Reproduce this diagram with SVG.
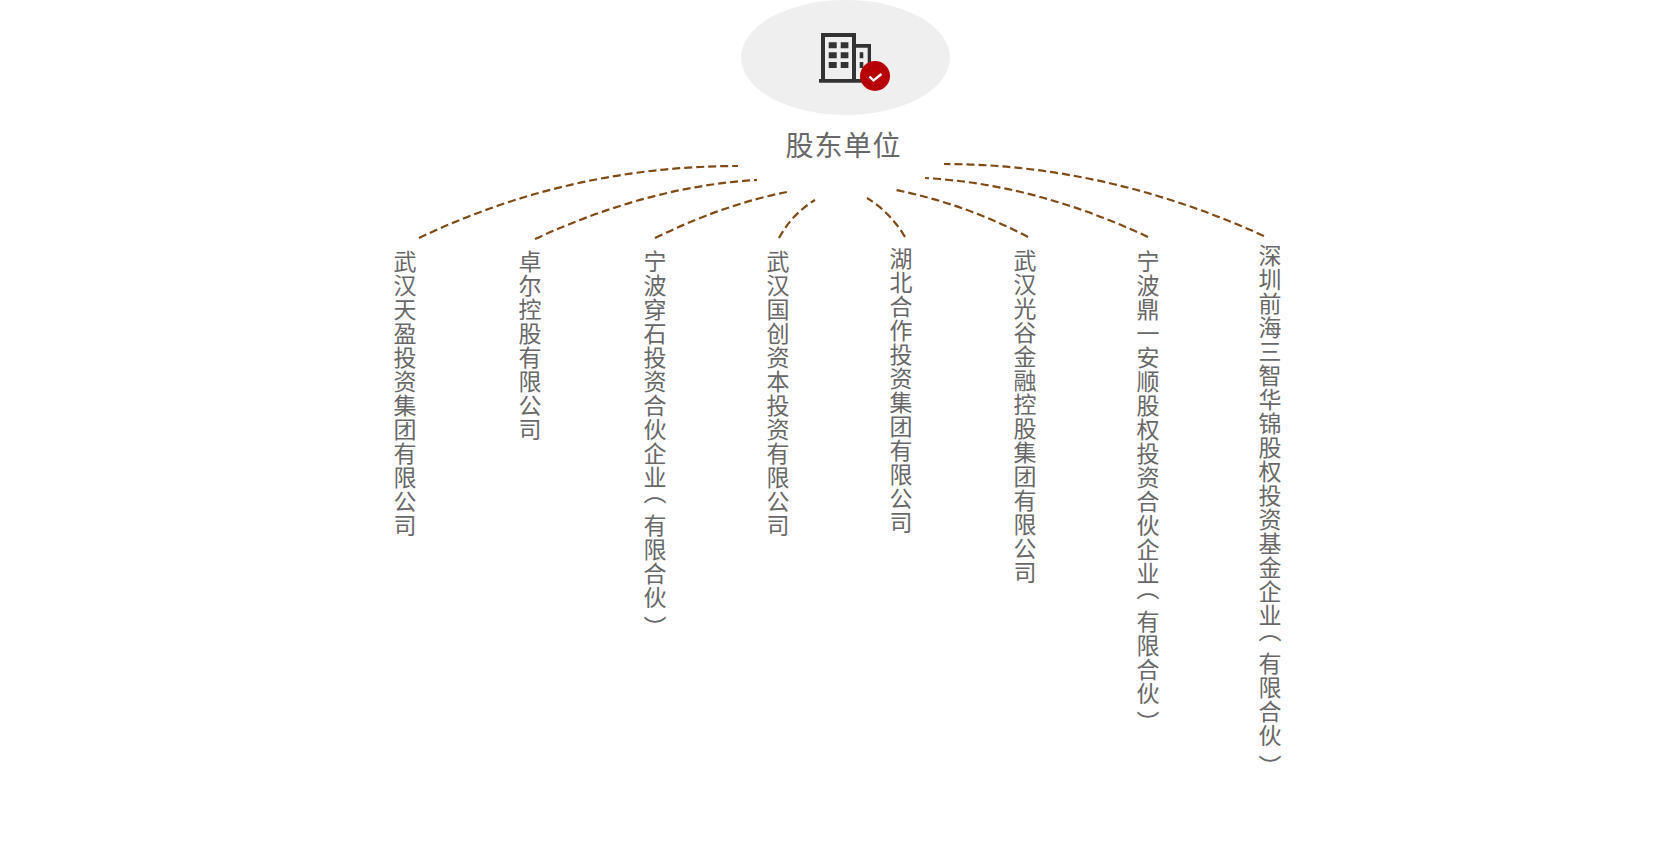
<svg xmlns="http://www.w3.org/2000/svg" width="1680" height="846" viewBox="0 0 1680 846">
<style>
.t{font-family:"Noto Sans CJK SC","Noto Sans",sans-serif;fill:#686868}
.v{font-size:23px;writing-mode:vertical-rl;text-orientation:mixed;letter-spacing:1px}
.c{fill:none;stroke:#7f4a14;stroke-width:2.2;stroke-dasharray:8 4}
.k{fill:#333}
</style>
<rect width="1680" height="846" fill="#fff"/>
<g id="root">
<ellipse cx="845.500" cy="57.500" rx="104.500" ry="57.500" fill="#efefef"/>
<g id="icon">
<path class="k" d="M821 33h35v48h-4V37h-27v44h-4z"/>
<path class="k" d="M856 44h15v22h-3.300V47.700h-11.700z"/>
<path class="k" d="M819 79h44v3.700h-44z"/>
<path class="k" d="M828.700 42.300h8v6h-8zM840.700 42.300h7.700v6h-7.700zM828.700 52.300h8v6h-8zM840.700 52.300h7.700v6h-7.700zM828.700 62h8v6h-8zM840.700 62h7.700v6h-7.700zM859.700 52.300h3.600v6h-3.600zM859.700 62h3.600v6h-3.600z"/>
<circle cx="875" cy="76" r="15" fill="#b60005"/>
<path d="M869.500 76.500l4 4 8-6.500" fill="none" stroke="#fff" stroke-width="2.400"/>
</g>
<text class="t" x="843.500" y="156" font-size="28" letter-spacing="1" text-anchor="middle">股东单位</text>
</g>
<g id="connectors">
<path class="c" d="M419 238Q570 166 738 166"/>
<path class="c" d="M535 239Q650 186 757 180"/>
<path class="c" d="M655 238Q725 204 787 192"/>
<path class="c" d="M779 238Q792 214 815 200"/>
<path class="c" d="M905 237Q890 212 867 198"/>
<path class="c" d="M1028 237Q965 204 896 190"/>
<path class="c" d="M1148 237Q1035 184 925 178"/>
<path class="c" d="M1264 236Q1105 164 944 164"/>
</g>
<g id="n1"><text class="t v" x="405" y="250">武汉天盈投资集团有限公司</text></g>
<g id="n2"><text class="t v" x="530" y="250">卓尔控股有限公司</text></g>
<g id="n3"><text class="t v" x="655" y="250">宁波穿石投资合伙企业<tspan y="481">（</tspan><tspan y="514">有限合伙</tspan><tspan y="616">）</tspan></text></g>
<g id="n4"><text class="t v" x="778" y="250">武汉国创资本投资有限公司</text></g>
<g id="n5"><text class="t v" x="901" y="247">湖北合作投资集团有限公司</text></g>
<g id="n6"><text class="t v" x="1025" y="249">武汉光谷金融控股集团有限公司</text></g>
<g id="n7"><text class="t v" x="1148" y="250">宁波鼎一安顺股权投资合伙企业<tspan y="577">（</tspan><tspan y="610">有限合伙</tspan><tspan y="711">）</tspan></text></g>
<g id="n8"><text class="t v" x="1270" y="244">深圳前海三智华锦股权投资基金企业<tspan y="619">（</tspan><tspan y="652">有限合伙</tspan><tspan y="755">）</tspan></text></g>
</svg>
